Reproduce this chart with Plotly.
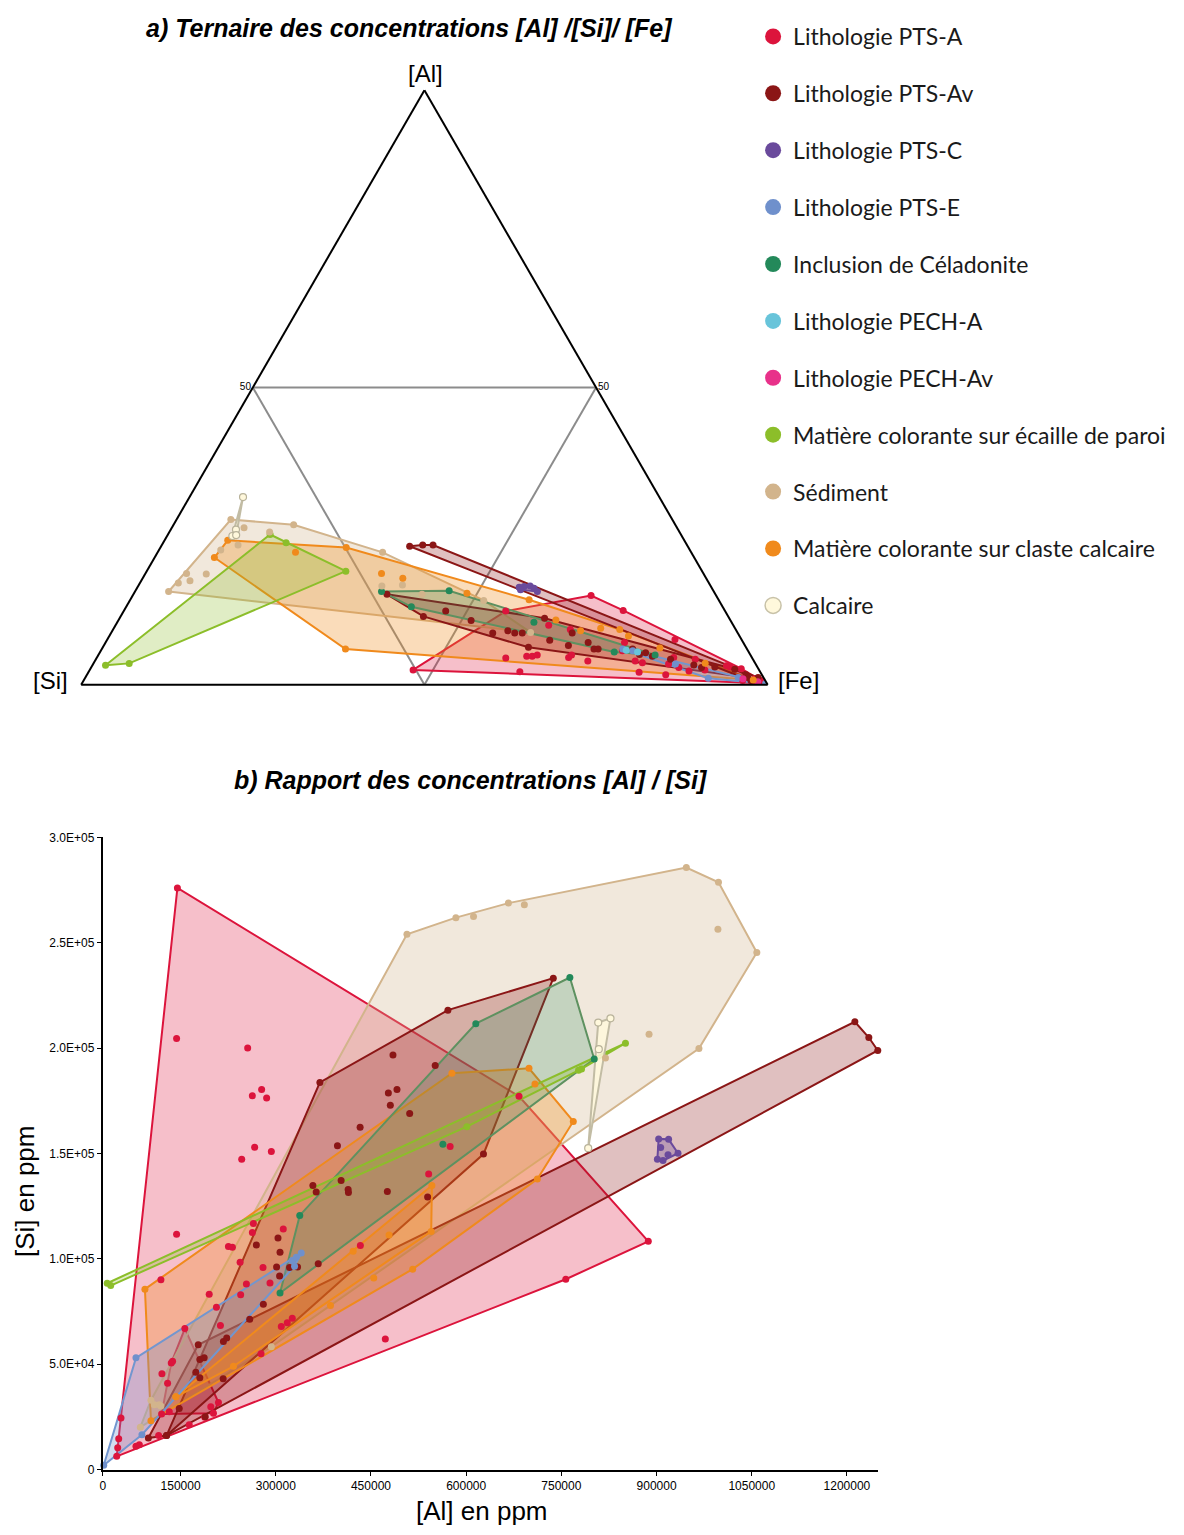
import plotly.graph_objects as go

W, H = 1184, 1535

# ---------------- Bottom chart data : [Al] (ppm) vs [Si] (ppm) ----------------
AL_PTSA_1 = [145000, 887000, 757000, 49400, 50900, 52500, 56100, 79700, 85000, 115400,
             163600, 188100, 120600, 119000, 143700, 206500, 212800, 195100, 244700, 253700,
             243800, 225400, 231700, 263100, 264700, 311800, 279900, 290900, 276800, 308700,
             318100, 326000, 433300, 540900, 472600, 246300, 266700, 293000, 143700, 255700,
             263100, 277700, 285600, 683300, 574800]
SI_PTSA_1 = [276000, 108300, 90300, 6250, 10300, 14600, 24500, 11000, 11800, 16100,
             21200, 24800, 45500, 90100, 111600, 77000, 68300, 83200, 82900, 88100,
             98400, 105900, 105500, 112500, 116800, 114100, 95900, 88500, 54900, 67900,
             69700, 71800, 106300, 140300, 61900, 147300, 153000, 150900, 204500, 200000,
             177400, 180400, 176300, 177100, 153300]
AL_PTSA_2 = [120100, 132200, 201800, 197600, 209700, 129500, 135300, 137400, 156700]
SI_PTSA_2 = [26300, 27400, 26700, 29800, 31800, 40900, 50600, 51400, 66900]

AL_PTSAV_1 = [99200, 127900, 147900, 177800, 180300, 187200, 174000, 180300, 217100, 217500,
              222700, 258900, 1212500, 1234500, 1248600]
SI_PTSAV_1 = [15000, 16100, 29000, 59200, 52200, 53000, 46200, 43600, 43100, 60800,
              62400, 71300, 212500, 205000, 198900]
AL_PTSAV_2 = [127900, 280400, 306000, 301300, 306700, 303500, 269400, 321700, 334300, 366900,
              363700, 358500, 403000, 414000, 414500, 475800, 539300, 397200, 484700, 477400,
              491000, 480500, 511000, 432900, 369500, 737300, 571200, 551200, 627300]
SI_PTSAV_2 = [16100, 78400, 91800, 96100, 103100, 109900, 106600, 95900, 96100, 97700,
              131700, 134800, 137200, 132900, 131500, 132000, 129300, 153600, 196700, 178700,
              180400, 172900, 168900, 162400, 183700, 233200, 218000, 191700, 149700]
AL_PTSAV_LOOSE = [188800]
SI_PTSAV_LOOSE = [25100]

AL_PTSC = [903300, 919000, 906500, 918100, 933800, 901300, 910200]
SI_PTSC = [156900, 156700, 152800, 149400, 150100, 147300, 146600]

AL_PTSE = [28900, 79700, 89100, 326000, 332300, 340100, 329600]
SI_PTSE = [2000, 53000, 16500, 99200, 100800, 102800, 96500]

AL_CEL = [306700, 337800, 615200, 763400, 801800, 563300]
SI_CEL = [83800, 120600, 211600, 233500, 194800, 154400]

AL_ECA = [34400, 39900, 601100, 781800, 777100, 851000]
SI_ECA = [88400, 87300, 162700, 190100, 189500, 202300]

AL_CLA_1 = [103300, 93800, 577500, 699000, 708400, 768800, 712200, 515700, 454400, 386200, 142600]
SI_CLA_1 = [23200, 85600, 188100, 190400, 183000, 165200, 137900, 95100, 90900, 77900, 34500]
AL_CLA_2 = [142600, 233300, 421900, 478500, 544900, 546000]
SI_CLA_2 = [34500, 49000, 103600, 111300, 113000, 134800]

AL_SED = [86600, 506700, 583800, 611600, 666600, 691700, 946900, 997600, 1058000, 966800,
          996700, 888200, 819500, 293000, 103300, 108600, 116500, 119000]
SI_SED = [20100, 254000, 261900, 262500, 268800, 268000, 285700, 278700, 245400, 199800,
          256400, 206600, 195300, 58300, 32900, 30700, 30700, 30200]

AL_CAL = [792300, 808100, 827400, 809000]
SI_CAL = [152500, 212100, 214100, 199500]

# axis of the bottom chart (as drawn in the reference: the first label "0" sits at the axis start)
X_AXIS_START = 27350
X_AXIS_END = 1248600
X_TICKS = [150000, 300000, 450000, 600000, 750000, 900000, 1050000, 1200000]
Y_TICKS = [0, 50000, 100000, 150000, 200000, 250000, 300000]

# ---------------- Ternary data : [Al] / [Si] / [Fe] (%) ----------------
T_PTSA_AL = [2.5, 15.0, 12.5, 7.6, 3.0, 0.4, 2.2, 0.3, 12.4, 4.5, 4.8, 4.8, 5.0, 10.0, 4.6, 5.0,
             9.3, 4.0, 5.7, 7.1, 4.0, 2.1, 3.7, 1.7, 3.5, 4.6, 2.9, 2.3, 4.3, 2.5, 3.2, 2.7, 0.7, 1.0, 0.7]
T_PTSA_SI = [50.4, 18.2, 14.8, 9.7, 4.0, 0.3, 35.0, 1.6, 32.0, 35.9, 32.7, 31.9, 31.1, 26.9, 26.7,
             26.1, 24.1, 24.2, 18.3, 17.3, 17.3, 17.7, 16.4, 14.0, 12.7, 11.4, 11.5, 10.3, 8.4, 7.9,
             4.4, 2.5, 3.3, 1.4, 0.6]
T_PTSA_FE = [47.1, 66.7, 72.7, 82.7, 93.0, 99.3, 62.8, 98.1, 55.7, 59.6, 62.5, 63.3, 64.0, 63.1,
             68.7, 69.0, 66.6, 71.8, 76.0, 75.6, 78.7, 80.3, 79.9, 84.3, 83.9, 84.1, 85.6, 87.3,
             87.3, 89.6, 92.4, 94.8, 96.1, 97.6, 98.7]

T_PTSAV1_AL = [23.3, 23.5, 23.5, 1.2, 0.7]
T_PTSAV1_SI = [40.5, 38.5, 37.0, 0.8, 2.1]
T_PTSAV1_FE = [36.2, 38.0, 39.5, 98.0, 97.2]
T_PTSAV2_AL = [15.2, 11.5, 12.4, 10.8, 8.7, 9.1, 8.7, 8.7, 6.3, 11.2, 7.5, 6.6, 8.7, 7.1, 6.0, 6.0,
               6.0, 5.1, 5.4, 4.8, 4.3, 3.3, 2.9, 3.0, 2.6, 1.7, 1.2]
T_PTSAV2_SI = [47.8, 44.4, 40.7, 37.8, 35.7, 33.3, 32.5, 31.4, 31.7, 26.9, 28.0, 25.7, 24.1, 22.6,
               22.3, 21.7, 16.7, 16.1, 15.1, 14.4, 12.0, 9.1, 8.2, 6.2, 3.5, 2.3, 2.3]
T_PTSAV2_FE = [36.9, 44.1, 46.9, 51.4, 55.6, 57.6, 58.8, 59.9, 62.0, 61.9, 64.5, 67.6, 67.1, 70.3,
               71.7, 72.3, 77.4, 78.7, 79.6, 80.8, 83.7, 87.5, 89.0, 90.8, 93.9, 96.0, 96.5]

T_PTSC_AL = [16.4, 16.5, 16.6, 16.2, 15.7, 16.0]
T_PTSC_SI = [28.0, 27.2, 26.3, 25.9, 25.7, 28.0]
T_PTSC_FE = [55.6, 56.2, 57.1, 57.8, 58.6, 56.0]

T_PTSE_AL = [6.0, 5.7, 3.5, 1.1, 0.2, 1.2]
T_PTSE_SI = [18.1, 16.8, 11.7, 8.1, 0.2, 3.7]
T_PTSE_FE = [75.9, 77.5, 84.9, 90.8, 99.6, 95.1]

T_CEL_AL = [15.7, 15.8, 13.1, 10.5, 5.5, 5.0]
T_CEL_SI = [48.4, 38.5, 45.3, 28.8, 19.6, 13.9]
T_CEL_FE = [35.9, 45.7, 41.5, 60.7, 74.9, 81.1]

T_PECHA_AL = [5.8, 5.5]
T_PECHA_SI = [17.7, 16.2]
T_PECHA_FE = [76.5, 78.3]

T_PECHAV_AL = [1.0, 0.5]
T_PECHAV_SI = [3.1, 1.2]
T_PECHAV_FE = [95.9, 98.3]

T_ECA_AL = [3.3, 3.6, 19.1, 25.3, 23.9]
T_ECA_SI = [94.9, 91.3, 51.9, 59.9, 58.2]
T_ECA_FE = [1.9, 5.2, 29.0, 14.9, 17.9]

T_SED_AL = [15.7, 27.8, 26.9, 22.3, 8.8, 17.1, 18.7, 17.5, 18.6, 22.7, 23.5, 26.4, 25.7, 16.6, 16.8, 15.2, 14.2]
T_SED_SI = [79.5, 64.3, 55.6, 45.0, 30.1, 77.3, 75.3, 75.4, 72.4, 68.4, 65.4, 63.0, 59.7, 47.9, 44.8, 42.7, 34.3]
T_SED_FE = [4.9, 7.9, 17.5, 32.8, 61.0, 5.6, 6.0, 7.1, 8.9, 9.0, 11.1, 10.5, 14.6, 35.5, 38.4, 42.0, 51.6]

T_CLA_AL = [21.4, 24.3, 23.1, 6.0, 22.3, 18.7, 17.9, 15.4, 14.3, 10.9, 9.1, 9.5, 9.3, 8.2, 6.2, 3.6, 0.8]
T_CLA_SI = [69.9, 66.5, 49.9, 58.5, 57.7, 46.9, 44.2, 36.1, 27.6, 25.4, 22.7, 19.6, 16.9, 16.2, 12.6, 7.3, 1.7]
T_CLA_FE = [8.7, 9.2, 27.1, 35.5, 20.1, 34.4, 37.9, 48.5, 58.1, 63.7, 68.2, 71.0, 73.8, 75.7, 81.2, 89.1, 97.4]

T_CAL_AL = [31.6, 26.1, 25.0, 25.2]
T_CAL_SI = [60.7, 64.4, 65.4, 64.9]
T_CAL_FE = [7.8, 9.5, 9.5, 10.0]

# ---------------- Groups (legend order) ----------------
NAMES = {
    'PTSA': 'Lithologie PTS-A', 'PTSAV': 'Lithologie PTS-Av', 'PTSC': 'Lithologie PTS-C',
    'PTSE': 'Lithologie PTS-E', 'CEL': 'Inclusion de Céladonite', 'PECHA': 'Lithologie PECH-A',
    'PECHAV': 'Lithologie PECH-Av', 'ECA': 'Matière colorante sur écaille de paroi',
    'SED': 'Sédiment', 'CLA': 'Matière colorante sur claste calcaire', 'CAL': 'Calcaire'}
ORDER = ['PTSA', 'PTSAV', 'PTSC', 'PTSE', 'CEL', 'PECHA', 'PECHAV', 'ECA', 'SED', 'CLA', 'CAL']
COLORS = {'PTSA': '#DC143C', 'PTSAV': '#8B1616', 'PTSC': '#6A4A9C', 'PTSE': '#6F90CC',
          'CEL': '#23895A', 'PECHA': '#68C4DA', 'PECHAV': '#E8318A', 'ECA': '#8CBE2A',
          'SED': '#D2B48C', 'CLA': '#F08A1C', 'CAL': '#FFF8DC'}
HULL_LINE = {'PTSA': '#DC143C', 'PTSAV': '#8B1616', 'PTSC': '#6A4A9C', 'PTSE': '#7296CF',
             'CEL': '#5E9160', 'PECHA': '#68C4DA', 'PECHAV': '#E8318A', 'ECA': '#8CBE2A',
             'SED': '#D2B48C', 'CLA': '#F08A1C', 'CAL': '#C2BCA4'}
FILL_ALPHA = {'PTSA': 0.27, 'PTSAV': 0.27, 'PTSC': 0.3, 'PTSE': 0.3, 'CEL': 0.22, 'PECHA': 0.3,
              'PECHAV': 0.3, 'ECA': 0.27, 'SED': 0.3, 'CLA': 0.3, 'CAL': 0.85}


def rgba(hexc, a):
    h = hexc.lstrip('#')
    return 'rgba(%d,%d,%d,%.2f)' % (int(h[0:2], 16), int(h[2:4], 16), int(h[4:6], 16), a)


def convex_hull(pts):
    """Andrew monotone chain on tuples whose first two items are the planar coordinates."""
    pts = sorted(set(pts))
    if len(pts) < 3:
        return pts

    def cross(o, a, b):
        return (a[0] - o[0]) * (b[1] - o[1]) - (a[1] - o[1]) * (b[0] - o[0])
    lower, upper = [], []
    for p in pts:
        while len(lower) >= 2 and cross(lower[-2], lower[-1], p) <= 0:
            lower.pop()
        lower.append(p)
    for p in reversed(pts):
        while len(upper) >= 2 and cross(upper[-2], upper[-1], p) <= 0:
            upper.pop()
        upper.append(p)
    return lower[:-1] + upper[:-1]


MARKER_LINE = {k: dict(width=0) for k in ORDER}
MARKER_LINE['CAL'] = dict(width=1.2, color='#B8B29A')

fig = go.Figure()

# ---------------- Ternary traces ----------------
TERN = {
    'PTSA': [(T_PTSA_AL, T_PTSA_SI, T_PTSA_FE)],
    'PTSAV': [(T_PTSAV1_AL, T_PTSAV1_SI, T_PTSAV1_FE), (T_PTSAV2_AL, T_PTSAV2_SI, T_PTSAV2_FE)],
    'PTSC': [(T_PTSC_AL, T_PTSC_SI, T_PTSC_FE)],
    'PTSE': [(T_PTSE_AL, T_PTSE_SI, T_PTSE_FE)],
    'CEL': [(T_CEL_AL, T_CEL_SI, T_CEL_FE)],
    'PECHA': [(T_PECHA_AL, T_PECHA_SI, T_PECHA_FE)],
    'PECHAV': [(T_PECHAV_AL, T_PECHAV_SI, T_PECHAV_FE)],
    'ECA': [(T_ECA_AL, T_ECA_SI, T_ECA_FE)],
    'SED': [(T_SED_AL, T_SED_SI, T_SED_FE)],
    'CLA': [(T_CLA_AL, T_CLA_SI, T_CLA_FE)],
    'CAL': [(T_CAL_AL, T_CAL_SI, T_CAL_FE)],
}
HULL_ORDER = ['PTSA', 'SED', 'CLA', 'ECA', 'PTSAV', 'CEL', 'PTSC', 'PTSE', 'PECHA', 'PECHAV', 'CAL']

for g in HULL_ORDER:
    for (al, si, fe) in TERN[g]:
        if len(al) < 3:
            continue
        pts = []
        for a, b, c in zip(al, si, fe):
            s = a + b + c
            pts.append((c / s, a / s, b / s))
        hull = convex_hull(pts)
        hull = hull + hull[:1]
        fig.add_trace(go.Scatterternary(
            a=[p[1] * 100 for p in hull], b=[p[2] * 100 for p in hull], c=[p[0] * 100 for p in hull],
            mode='lines', fill='toself', fillcolor=rgba(COLORS[g], FILL_ALPHA[g]),
            line=dict(color=HULL_LINE[g], width=2), hoverinfo='skip',
            showlegend=False, legendgroup=g, subplot='ternary'))

for g in ORDER:
    for (al, si, fe) in TERN[g]:
        fig.add_trace(go.Scatterternary(
            a=al, b=si, c=fe, mode='markers',
            marker=dict(size=7, color=COLORS[g], line=MARKER_LINE[g]),
            name=NAMES[g], showlegend=False, legendgroup=g, subplot='ternary'))

# ---------------- Bottom scatter traces ----------------
CART = {
    'PTSA': [(AL_PTSA_1, SI_PTSA_1, True), (AL_PTSA_2, SI_PTSA_2, True)],
    'PTSAV': [(AL_PTSAV_1, SI_PTSAV_1, True), (AL_PTSAV_2, SI_PTSAV_2, True),
              (AL_PTSAV_LOOSE, SI_PTSAV_LOOSE, False)],
    'PTSC': [(AL_PTSC, SI_PTSC, True)],
    'PTSE': [(AL_PTSE, SI_PTSE, True)],
    'CEL': [(AL_CEL, SI_CEL, True)],
    'ECA': [(AL_ECA, SI_ECA, True)],
    'SED': [(AL_SED, SI_SED, True)],
    'CLA': [(AL_CLA_1, SI_CLA_1, True), (AL_CLA_2, SI_CLA_2, True)],
    'CAL': [(AL_CAL, SI_CAL, True)],
}
CART_HULL_ORDER = ['PTSA', 'SED', 'PTSAV', 'CLA', 'CEL', 'ECA', 'PTSE', 'PTSC', 'CAL']
for g in CART_HULL_ORDER:
    for (xs, ys, has_hull) in CART[g]:
        if not has_hull:
            continue
        hull = convex_hull(list(zip(xs, ys)))
        hull = hull + hull[:1]
        fig.add_trace(go.Scatter(
            x=[p[0] for p in hull], y=[p[1] for p in hull], mode='lines', fill='toself',
            fillcolor=rgba(COLORS[g], FILL_ALPHA[g]), line=dict(color=HULL_LINE[g], width=2),
            hoverinfo='skip', showlegend=False, legendgroup=g, xaxis='x', yaxis='y'))
for g in ORDER:
    for (xs, ys, _) in CART.get(g, []):
        fig.add_trace(go.Scatter(
            x=xs, y=ys, mode='markers', cliponaxis=False,
            marker=dict(size=7, color=COLORS[g], line=MARKER_LINE[g]),
            name=NAMES[g], showlegend=False, legendgroup=g, xaxis='x', yaxis='y'))

# legend entries
for i, g in enumerate(ORDER):
    fig.add_trace(go.Scatter(
        x=[None], y=[None], mode='markers', name=NAMES[g], legendgroup=g, legendrank=i + 1,
        marker=dict(size=18, color=COLORS[g],
                    line=dict(width=1.5, color='#C8C2A8') if g == 'CAL' else dict(width=0)),
        showlegend=True, xaxis='x', yaxis='y'))

# ---------------- Layout ----------------
tern_axis = dict(title=dict(text=''), min=0, showline=True, linecolor='black', linewidth=2,
                 showgrid=True, gridcolor='#8C8C8C', gridwidth=2, tickmode='array',
                 tickvals=[50], ticktext=['50'], ticks='', tickfont=dict(size=10, color='black',
                                                                         family='Liberation Sans'))
baxis = dict(tern_axis)
baxis['showticklabels'] = False

AXIS_FONT = dict(family='Liberation Sans', size=12, color='black')

fig.update_layout(
    width=W, height=H, autosize=False,
    margin=dict(l=0, r=0, t=0, b=0),
    paper_bgcolor='white', plot_bgcolor='white',
    font=dict(family='Liberation Sans', color='black'),
    ternary=dict(sum=100, bgcolor='white',
                 domain=dict(x=[75 / W, 770 / W], y=[1 - 684 / H, 1 - 84 / H]),
                 aaxis=tern_axis, baxis=baxis, caxis=tern_axis),
    xaxis=dict(domain=[100 / W, 877 / W], anchor='y', range=[X_AXIS_START, X_AXIS_END],
               tickmode='array', tickvals=[X_AXIS_START] + X_TICKS,
               ticktext=['0'] + [str(v) for v in X_TICKS],
               showline=True, linecolor='black', linewidth=2, ticks='outside', ticklen=4,
               tickcolor='black', showgrid=False, zeroline=False, tickfont=AXIS_FONT),
    yaxis=dict(domain=[1 - 1476 / H, 1 - 838 / H], anchor='x', range=[0, 300000],
               tickmode='array', tickvals=Y_TICKS,
               ticktext=['0'] + ['%.1E' % v for v in Y_TICKS[1:]],
               showline=True, linecolor='black', linewidth=2, ticks='outside', ticklen=4,
               tickcolor='black', showgrid=False, zeroline=False, tickfont=AXIS_FONT),
    legend=dict(x=752 / W, xanchor='left', y=1 - 8 / H, yanchor='top',
                font=dict(family='Lato', size=23, color='#1A1A1A'),
                tracegroupgap=24, itemsizing='trace', bgcolor='rgba(0,0,0,0)'),
    showlegend=True,
)

annots = [
    dict(text='<b><i>a) Ternaire des concentrations [Al] /[Si]/ [Fe]</i></b>', x=408 / W, y=1 - 21 / H,
         font=dict(size=25)),
    dict(text='<b><i>b) Rapport des concentrations [Al] / [Si]</i></b>', x=469 / W, y=1 - 780 / H,
         font=dict(size=25)),
    dict(text='[Al]', x=424 / W, y=1 - 67 / H, font=dict(size=24)),
    dict(text='[Si]', x=48 / W, y=1 - 680 / H, font=dict(size=24)),
    dict(text='[Fe]', x=798 / W, y=1 - 680 / H, font=dict(size=24)),
    dict(text='[Al] en ppm', x=480 / W, y=1 - 1518 / H, font=dict(size=26)),
    dict(text='[Si] en ppm', x=22 / W, y=1 - 1195 / H, font=dict(size=26), textangle=-90),
]
for a in annots:
    a.update(xref='paper', yref='paper', showarrow=False, xanchor='center', yanchor='middle')
    a['font'] = dict(family='Liberation Sans', color='black', **a['font'])
fig.update_layout(annotations=annots)

fig.write_html('out.html', config={'displayModeBar': False},
               post_script="document.body.style.margin='0';document.body.style.overflow='hidden';")
